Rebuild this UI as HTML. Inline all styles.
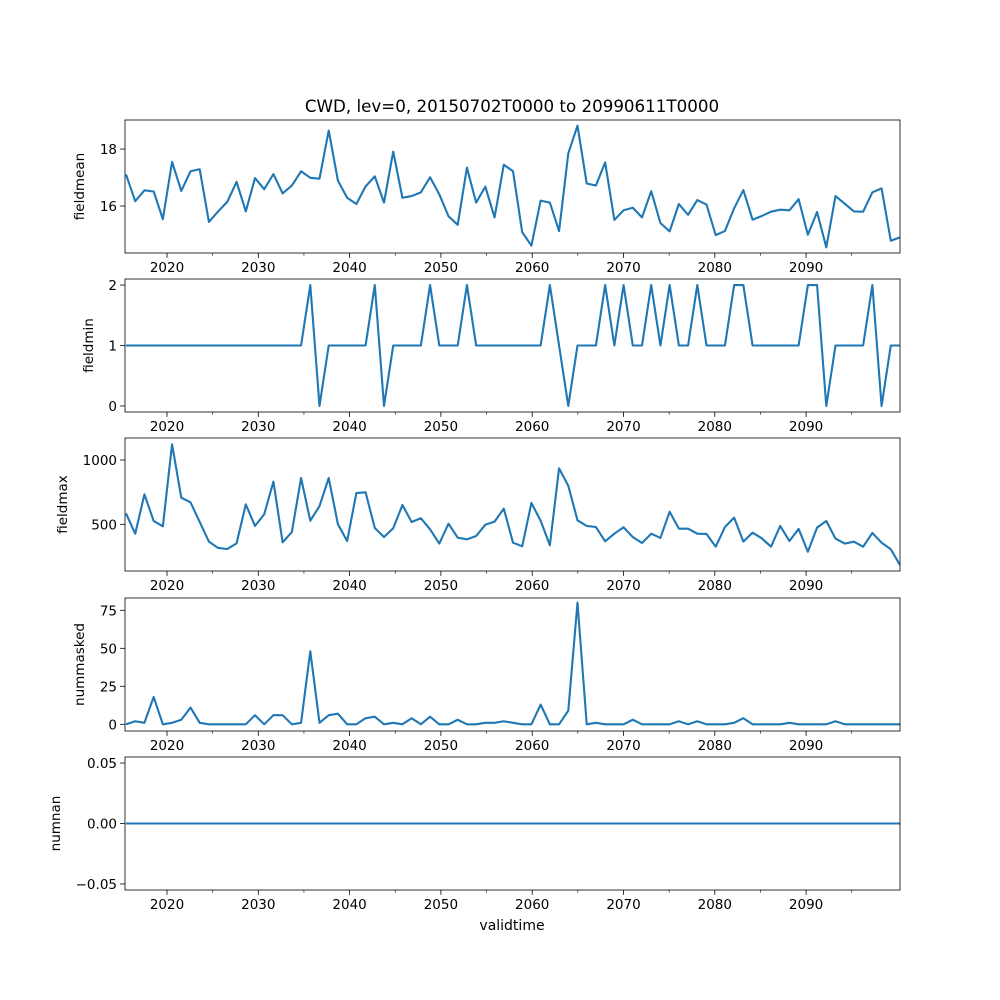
<!DOCTYPE html>
<html><head><meta charset="utf-8"><style>
html,body{margin:0;padding:0;background:#fff}
svg{display:block;font-family:"DejaVu Sans","Liberation Sans",sans-serif}
</style></head><body>
<svg id="chart" width="1000" height="1000" viewBox="0 0 1000 1000" xmlns="http://www.w3.org/2000/svg">
<rect width="1000" height="1000" fill="#fff"/>
<defs id="defs"></defs>
<text x="512" y="112" font-size="16.7" text-anchor="middle">CWD, lev=0, 20150702T0000 to 20990611T0000</text>
<text x="512" y="930" font-size="14" text-anchor="middle">validtime</text>
<g id="plots"></g>
</svg>
<script>
const xTickYears = [2020,2030,2040,2050,2060,2070,2080,2090];
const xMinorYears = [2025,2035,2045,2055,2065,2075,2085,2095];
const fieldmean = [17.11,16.17,16.55,16.51,15.54,17.55,16.53,17.22,17.29,15.44,15.81,16.15,16.85,15.81,16.98,16.59,17.12,16.44,16.72,17.22,16.99,16.96,18.65,16.89,16.29,16.07,16.69,17.04,16.12,17.91,16.29,16.35,16.48,17.01,16.41,15.64,15.34,17.35,16.12,16.68,15.6,17.45,17.22,
15.08,14.61,16.19,16.12,15.12,17.85,18.82,16.79,16.72,17.53,15.51,15.85,15.94,15.6,16.52,15.4,15.11,16.07,15.69,16.21,16.05,14.98,15.12,15.92,16.56,15.52,15.65,15.8,15.87,15.85,16.24,14.99,15.79,14.55,16.35,16.08,15.81,15.8,16.48,16.62,14.78,14.9];
const fieldmin = [1,1,1,1,1,1,1,1,1,1,1,1,1,1,1,1,1,1,1,1,2,0,1,1,1,1,1,2,0,1,1,1,1,2,1,1,1,2,1,1,1,1,1,1,1,1,2,1,0,1,1,1,2,1,2,1,1,2,1,2,1,1,2,1,1,1,2,2,1,1,1,1,1,1,2,2,0,1,1,1,1,2,0,1,1];
const fieldmax = [585,427,733,526,484,1122,707,671,518,365,316,308,352,655,487,578,832,360,440,860,528,642,860,500,370,743,749,471,401,469,650,518,547,461,350,505,396,383,409,497,521,622,357,
329,666,528,337,935,800,531,487,479,368,427,477,401,355,427,394,598,466,466,427,425,326,479,552,365,435,391,326,487,370,464,287,474,526,389,350,365,326,433,357,306,184];
const nummasked = [0,2,1,18,0,1,3,11,1,0,0,0,0,0,6,0,6,6,0,1,48,1,6,7,0,0,4,5,0,1,0,4,0,5,0,0,3,0,0,1,1,2,1,
0,0,13,0,0,9,80,0,1,0,0,0,3,0,0,0,0,2,0,2,0,0,0,1,4,0,0,0,0,1,0,0,0,0,2,0,0,0,0,0,0,0];
const numnan = new Array(85).fill(0);
const ticks1 = [16,18], labels1 = ["16","18"];
const ticks2 = [0,1,2], labels2 = ["0","1","2"];
const ticks3 = [500,1000], labels3 = ["500","1000"];
const ticks4 = [0,25,50,75], labels4 = ["0","25","50","75"];
const ticks5 = [-0.05,0,0.05], labels5 = ["\u22120.05","0.00","0.05"];

const NS = "http://www.w3.org/2000/svg";
const L = 125, R = 900;
function mk(tag, attrs, parent){const e=document.createElementNS(NS,tag);for(const k in attrs)e.setAttribute(k,attrs[k]);parent.appendChild(e);return e;}
function xIdx(i, n){return 126 + i*(900-126)/(n-1);}
function xYear(y){return 167 + (y-2020)*9.13;}
const g = document.getElementById('plots');
const defs = document.getElementById('defs');
const panels = [
 {name:'fieldmean', data:fieldmean, top:120, bot:253, ymin:14.35, ymax:19.02, ticks:ticks1, labels:labels1, lx:84},
 {name:'fieldmin', data:fieldmin, top:279, bot:412, ymin:-0.1, ymax:2.1, ticks:ticks2, labels:labels2, lx:93},
 {name:'fieldmax', data:fieldmax, top:438, bot:571, ymin:137, ymax:1171, ticks:ticks3, labels:labels3, lx:67},
 {name:'nummasked', data:nummasked, top:598, bot:731, ymin:-4.4, ymax:83.1, ticks:ticks4, labels:labels4, lx:84},
 {name:'numnan', data:numnan, top:757, bot:890, ymin:-0.055, ymax:0.055, ticks:ticks5, labels:labels5, lx:60}
];
panels.forEach(p=>{
  const cp = mk('clipPath',{id:'clip-'+p.name},defs);
  mk('rect',{x:L,y:p.top,width:R-L,height:p.bot-p.top},cp);
  const pg = mk('g',{},g);
  
  
  const yS = v => p.bot - (v-p.ymin)/(p.ymax-p.ymin)*(p.bot-p.top);
  const n = p.data.length;
  const pts = p.data.map((v,i)=>xIdx(i,n).toFixed(2)+','+yS(v).toFixed(2)).join(' ');
  const line = mk('polyline',{points:pts,fill:'none',stroke:'#1f77b4','stroke-width':2.1,'stroke-linejoin':'round','stroke-linecap':'butt','clip-path':'url(#clip-'+p.name+')'},pg);
  
  
  const fr = mk('rect',{x:L,y:p.top,width:R-L,height:p.bot-p.top,fill:'none',stroke:'#000','stroke-width':0.8},pg);
  
  
  p.ticks.forEach((t,k)=>{
    const y = yS(t);
    mk('line',{x1:L-4.9,x2:L,y1:y,y2:y,stroke:'#000','stroke-width':0.8},pg);
    const tx = mk('text',{x:L-8,y:y+5,'font-size':13.5,'text-anchor':'end'},pg);
    tx.textContent = p.labels[k];
    
    
  });
  xTickYears.forEach(yr=>{
    const x = xYear(yr);
    mk('line',{x1:x,x2:x,y1:p.bot,y2:p.bot+4.9,stroke:'#000','stroke-width':0.8},pg);
    const tx = mk('text',{x:x,y:p.bot+19,'font-size':13.5,'text-anchor':'middle'},pg);
    tx.textContent = String(yr);
    
    
  });
  xMinorYears.forEach(yr=>{
    const x = xYear(yr);
    mk('line',{x1:x,x2:x,y1:p.bot,y2:p.bot+2.8,stroke:'#000','stroke-width':0.6},pg);
  });
  const cy = (p.top+p.bot)/2;
  const yl = mk('text',{x:p.lx,y:cy,'font-size':13.5,'text-anchor':'middle',transform:`rotate(-90 ${p.lx} ${cy})`},pg);
  yl.textContent = p.name;
  
  
});
</script>
</body></html>
